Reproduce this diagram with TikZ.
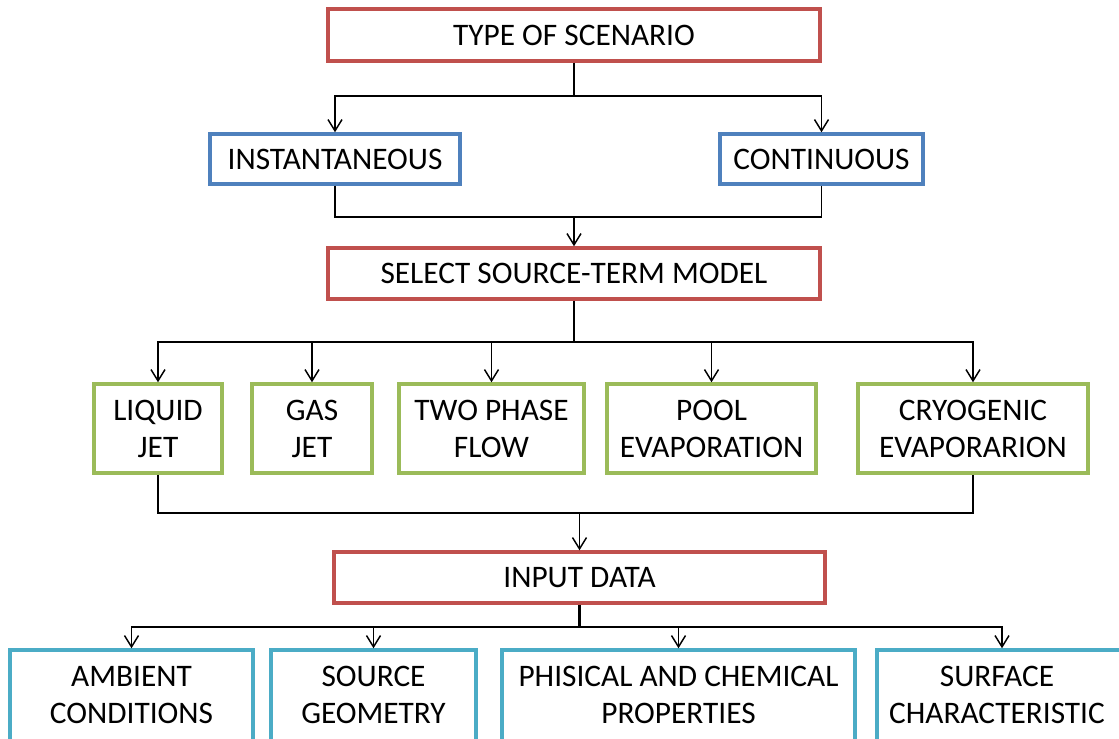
\documentclass[tikz,border=0pt]{standalone}
\usepackage{fontspec}
\setmainfont{Carlito}
\usetikzlibrary{arrows.meta}
\definecolor{cred}{HTML}{C0504D}
\definecolor{cblue}{HTML}{4F81BD}
\definecolor{cgreen}{HTML}{9BBB59}
\definecolor{ccyan}{HTML}{4BACC6}
\begin{document}
\begin{tikzpicture}[x=0.75pt,y=-0.75pt,
  bx/.style={draw, line width=2.6pt, fill=white, inner sep=0pt, align=center,
    font=\fontsize{23.5}{27.75}\selectfont},
  redbox/.style={bx, draw=cred},
  bluebox/.style={bx, draw=cblue},
  greenbox/.style={bx, draw=cgreen},
  cyanbox/.style={bx, draw=ccyan},
  lbl/.style={font=\fontsize{23.5}{27.75}\selectfont, align=center, inner sep=0pt},
  sz/.style 2 args={minimum width=#1*0.75pt, minimum height=#2*0.75pt},
  ln/.style={line width=1.1pt, black},
  stem/.style={line width=1.7pt, black},
  arr/.style={ln, -{Straight Barb[length=8.5pt,width=10.5pt,line width=1.1pt]}}]
\useasboundingbox (0,0) rectangle (1119,738);
\clip (0,0) rectangle (1119,738);
% nodes
\node[redbox, sz={492}{52}] (top) at (574,35) {TYPE OF SCENARIO};
\node[bluebox, sz={250}{50}] (inst) at (335,159) {INSTANTANEOUS};
\node[bluebox, sz={203}{50}] (cont) at (821.5,159) {CONTINUOUS};
\node[redbox, sz={492}{51}] (sel) at (574,273.5) {SELECT SOURCE-TERM MODEL};
\node[greenbox, sz={128}{89}] (liq) at (158,428.5) {LIQUID\\JET};
\node[greenbox, sz={120}{89}] (gas) at (312,428.5) {GAS\\JET};
\node[greenbox, sz={185}{89}] (two) at (491.5,428.5) {TWO PHASE\\FLOW};
\node[greenbox, sz={209}{89}] (pool) at (711.5,428.5) {POOL\\EVAPORATION};
\node[greenbox, sz={230}{89}] (cryo) at (973,428.5) {CRYOGENIC\\EVAPORARION};
\node[redbox, sz={491}{51}] (inp) at (579.5,577.5) {INPUT DATA};
\node[cyanbox, sz={243}{100}] (amb) at (131.5,700) {};
\node[cyanbox, sz={205}{100}] (src) at (373.5,700) {};
\node[cyanbox, sz={353}{100}] (phi) at (678.5,700) {};
\node[cyanbox, sz={250}{100}] (sur) at (1002,700) {};
\node[lbl] (ambt) at (131.5,695) {AMBIENT\\CONDITIONS};
\node[lbl] (srct) at (373.5,695) {SOURCE\\GEOMETRY};
\node[lbl] (phit) at (678.5,695) {PHISICAL AND CHEMICAL\\PROPERTIES};
\node[lbl] (surt) at (997,695) {SURFACE\\CHARACTERISTIC};
% branch coordinates
\coordinate (b1) at (574,96);
\coordinate (m1) at (574,217);
\coordinate (b2) at (574,342);
\coordinate (m2) at (579.5,513);
\coordinate (b3) at (579.5,627);
% connectors
\draw[stem] (top.south) -- (b1);
\draw[arr] (b1) -| (inst.north);
\draw[arr] (b1) -| (cont.north);
\draw[ln] (inst.south) |- (m1) -| (cont.south);
\draw[arr] (m1) -- (sel.north);
\draw[stem] (sel.south) -- (b2);
\draw[arr] (b2) -| (liq.north);
\draw[arr] (b2) -| (gas.north);
\draw[arr] (b2) -| (two.north);
\draw[arr] (b2) -| (pool.north);
\draw[arr] (b2) -| (cryo.north);
\draw[ln] (liq.south) |- (m2) -| (cryo.south);
\draw[arr] (m2) -- (inp.north);
\draw[stem] (inp.south) -- (b3);
\draw[arr] (b3) -| (amb.north);
\draw[arr] (b3) -| (src.north);
\draw[arr] (b3) -| (phi.north);
\draw[arr] (b3) -| (sur.north);
\end{tikzpicture}
\end{document}
